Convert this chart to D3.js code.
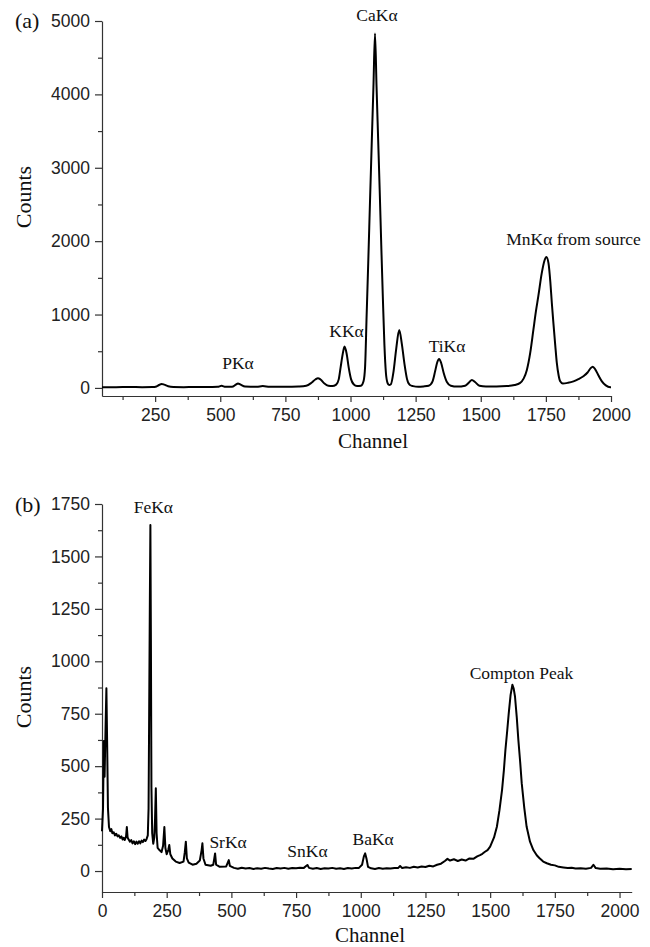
<!DOCTYPE html>
<html>
<head>
<meta charset="utf-8">
<script src="https://cdn.jsdelivr.net/npm/d3@7"></script>
<style>
  html, body { margin: 0; padding: 0; background: #fff; }
  svg { display: block; }
  .tick text { font-family: "Liberation Sans", Arial, sans-serif; font-size: 17.5px; fill: #222; }
  .serif { font-family: "Liberation Serif", "Times New Roman", serif; fill: #111; }
</style>
</head>
<body>
<svg id="chart" width="650" height="947"></svg>
<script>
// ---------- Data: panel (a) ----------
const chanA = [46,100,150,200,240,255,265,275,285,300,320,360,400,450,490,505,520,545,560,568,578,595,640,663,690,750,800,830,850,865,875,885,900,915,930,945,955,962,970,977,985,993,1002,1012,1025,1040,1050,1056,1062,1068,1075,1082,1088,1094,1100,1106,1112,1118,1124,1130,1136,1142,1148,1155,1165,1175,1187,1197,1207,1217,1228,1240,1260,1280,1300,1315,1325,1333,1340,1348,1358,1370,1385,1410,1440,1455,1466,1478,1495,1520,1560,1600,1630,1650,1665,1677,1690,1702,1712,1721,1734,1745,1752,1760,1767,1773,1779,1786,1792,1799,1805,1815,1835,1856,1875,1894,1910,1922,1930,1940,1952,1965,1980,1997,2000];
const countsA = [10,10,12,10,12,20,40,55,45,22,12,10,12,12,15,28,15,15,45,62,45,18,15,25,15,15,20,30,70,115,132,115,60,30,25,45,120,280,460,563,470,280,120,50,25,30,90,290,1000,1700,2560,3400,4100,4830,4100,3400,2700,1950,1250,600,200,70,40,50,220,520,790,600,330,120,40,25,15,20,30,90,230,350,395,340,200,80,30,18,30,75,108,80,30,20,20,25,40,65,130,245,480,790,1050,1250,1560,1740,1785,1700,1450,1150,880,580,340,170,90,60,70,90,120,160,210,270,290,250,170,90,35,10,10];

// ---------- Data: panel (b) ----------
const chanB = [0,4,7,10,14,17,20,23,27,32,36,40,45,50,55,60,65,70,75,80,84,88,93,96,99,103,108,113,118,123,128,133,138,143,148,153,158,163,168,172,177,180,182,185,187,189,191,194,198,202,205,208,211,215,222,230,236,241,245,250,256,260,264,272,285,300,315,320,324,328,335,350,365,378,385,388,392,400,420,430,434,437,441,455,480,486,490,494,510,525,540,555,570,585,600,615,630,645,660,675,690,705,720,735,750,765,780,790,794,800,815,830,845,860,875,890,905,920,935,950,965,980,992,1005,1012,1017,1022,1028,1040,1055,1070,1085,1100,1115,1130,1145,1152,1160,1175,1190,1205,1220,1235,1250,1265,1280,1295,1310,1325,1335,1345,1360,1375,1390,1405,1420,1435,1450,1461,1470,1480,1490,1500,1515,1526,1536,1546,1553,1559,1566,1572,1579,1586,1591,1596,1603,1609,1616,1622,1632,1641,1654,1667,1680,1690,1705,1719,1735,1750,1765,1783,1800,1815,1830,1850,1870,1890,1899,1908,1925,1950,1975,2000,2025,2047];
const countsB = [190,300,620,450,700,872,600,300,210,190,200,180,185,170,178,165,170,158,165,150,158,148,165,210,160,150,140,148,132,142,128,140,130,142,132,145,138,150,143,152,170,300,700,1300,1650,1100,400,180,130,160,250,395,180,110,100,90,120,210,110,80,100,124,80,60,45,38,45,90,140,60,40,30,35,50,100,132,60,30,25,30,60,84,30,20,22,40,52,25,15,11,16,12,14,10,13,11,15,12,10,14,12,15,11,14,13,16,15,25,29,15,11,14,10,13,12,15,11,13,10,14,12,15,14,30,70,84,60,20,13,10,14,11,13,12,14,15,24,14,18,15,20,17,22,19,25,22,30,35,48,58,50,56,48,55,50,60,58,70,76,82,92,100,116,160,211,290,387,480,578,670,754,840,888,870,832,730,625,520,419,300,211,140,100,75,62,45,37,30,27,20,17,14,16,12,13,11,15,30,14,11,12,9,11,9,10];

// ---------- Axis ticks & labels ----------
const xMajorA = [250,500,750,1000,1250,1500,1750,2000];
const xMinorA = [125,375,625,875,1125,1375,1625,1875];
const yMajorA = [0,1000,2000,3000,4000,5000];
const yMinorA = [500,1500,2500,3500,4500];
const xMajorB = [0,250,500,750,1000,1250,1500,1750,2000];
const xMinorB = [125,375,625,875,1125,1375,1625,1875];
const yMajorB = [0,250,500,750,1000,1250,1500,1750];
const yMinorB = [125,375,625,875,1125,1375,1625];

const annotA = [
  {text: "CaKα", ch: 1094, v: 4830, dx: 2, dy: -12},
  {text: "MnKα from source", ch: 1760, v: 1785, dx: 25, dy: -12},
  {text: "KKα", ch: 977, v: 563, dx: 2, dy: -10},
  {text: "TiKα", ch: 1340, v: 395, dx: 8, dy: -7},
  {text: "PKα", ch: 568, v: 62, dx: 0, dy: -14}
];
const annotB = [
  {text: "FeKα", ch: 187, v: 1650, dx: 3, dy: -12},
  {text: "SrKα", ch: 437, v: 84, dx: 13, dy: -5},
  {text: "SnKα", ch: 794, v: 29, dx: 0, dy: -8},
  {text: "BaKα", ch: 1017, v: 84, dx: 8, dy: -8},
  {text: "Compton Peak", ch: 1586, v: 888, dx: 9, dy: -6}
];

const svg = d3.select("#chart");

function panel(cfg) {
  const x = d3.scaleLinear().domain(cfg.xDomain).range(cfg.xRange);
  const y = d3.scaleLinear().domain(cfg.yDomain).range(cfg.yRange);
  const g = svg.append("g");

  // minor ticks
  g.append("g").attr("transform", `translate(0,${cfg.yRange[0]})`)
    .call(d3.axisBottom(x).tickValues(cfg.xMinor).tickSize(4).tickSizeOuter(0).tickFormat(""))
    .call(s => s.select(".domain").remove());
  g.append("g").attr("transform", `translate(${cfg.xRange[0]},0)`)
    .call(d3.axisLeft(y).tickValues(cfg.yMinor).tickSize(4).tickSizeOuter(0).tickFormat(""))
    .call(s => s.select(".domain").remove());

  // major axes
  g.append("g").attr("transform", `translate(0,${cfg.yRange[0]})`)
    .call(d3.axisBottom(x).tickValues(cfg.xMajor).tickSize(6).tickSizeOuter(0).tickPadding(7).tickFormat(d3.format("d")));
  g.append("g").attr("transform", `translate(${cfg.xRange[0]},0)`)
    .call(d3.axisLeft(y).tickValues(cfg.yMajor).tickSize(7).tickSizeOuter(0).tickPadding(5).tickFormat(d3.format("d")));
  g.selectAll(".domain, .tick line").attr("stroke", "#333").attr("stroke-width", 1.2);

  // line
  const pts = cfg.chan.map((c, i) => [c, cfg.counts[i]]);
  g.append("path").datum(pts)
    .attr("fill", "none").attr("stroke", "#000").attr("stroke-width", 2)
    .attr("stroke-linejoin", "round")
    .attr("d", d3.line().x(d => x(d[0])).y(d => y(d[1])).curve(cfg.curve));

  // annotations
  cfg.annot.forEach(a => {
    g.append("text").attr("class", "serif")
      .attr("x", x(a.ch) + a.dx).attr("y", y(a.v) + a.dy)
      .attr("text-anchor", "middle").attr("font-size", 17.5).text(a.text);
  });

  // axis titles
  g.append("text").attr("class", "serif").attr("font-size", 21)
    .attr("text-anchor", "middle")
    .attr("x", cfg.xTitle[0]).attr("y", cfg.xTitle[1]).text("Channel");
  g.append("text").attr("class", "serif").attr("font-size", 22)
    .attr("text-anchor", "middle")
    .attr("transform", `translate(${cfg.yTitle[0]},${cfg.yTitle[1]}) rotate(-90)`).text("Counts");
  g.append("text").attr("class", "serif").attr("font-size", 22)
    .attr("x", cfg.tag[0]).attr("y", cfg.tag[1]).text(cfg.tagText);
}

panel({
  chan: chanA, counts: countsA, curve: d3.curveMonotoneX,
  xDomain: [46, 2000], xRange: [102, 611],
  yDomain: [-110, 5000], yRange: [396, 21],
  xMajor: xMajorA, xMinor: xMinorA, yMajor: yMajorA, yMinor: yMinorA,
  annot: annotA,
  xTitle: [373, 448], yTitle: [31, 197], tag: [15, 28], tagText: "(a)"
});

panel({
  chan: chanB, counts: countsB, curve: d3.curveLinear,
  xDomain: [0, 2047], xRange: [102, 631.7],
  yDomain: [-100, 1750], yRange: [892, 504],
  xMajor: xMajorB, xMinor: xMinorB, yMajor: yMajorB, yMinor: yMinorB,
  annot: annotB,
  xTitle: [370, 942], yTitle: [31, 697], tag: [15, 512], tagText: "(b)"
});
</script>
</body>
</html>
